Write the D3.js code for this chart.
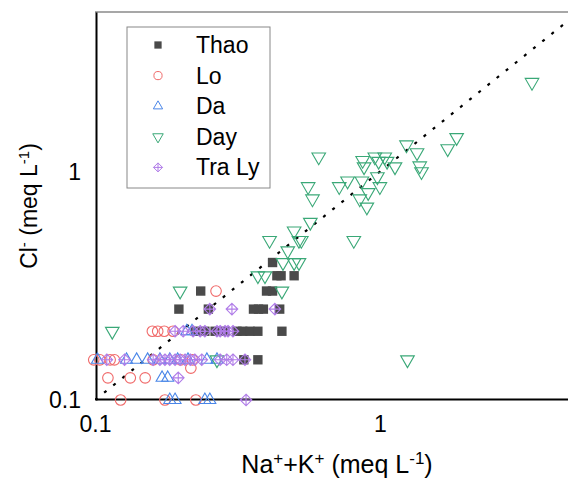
<!DOCTYPE html>
<html>
<head>
<meta charset="utf-8">
<script src="https://cdn.jsdelivr.net/npm/d3@7"></script>
<style>
  body { margin: 0; background: #fff; }
  svg { display: block; font-family: "Liberation Sans", Arial, sans-serif; }
</style>
</head>
<body>
<svg id="chart" width="568" height="484"></svg>
<script>
// series names in legend order
const seriesNames = ["Thao", "Lo", "Da", "Day", "Tra Ly"];
const seriesColors = ["#4a4a4a", "#f06a6a", "#4a86e8", "#3aa877", "#b07ce8"];

// [Na+ + K+, Cl-] in meq/L
const thao = [
    [0.42,0.4],[0.435,0.35],[0.45,0.35],[0.5,0.35],[0.235,0.3],[0.4,0.3],[0.42,0.3],
    [0.197,0.25],[0.25,0.25],[0.36,0.25],[0.375,0.25],[0.39,0.25],[0.445,0.25],
    [0.225,0.2],[0.243,0.2],[0.264,0.2],[0.286,0.2],[0.315,0.2],[0.33,0.2],[0.35,0.2],
    [0.373,0.2],[0.453,0.2],[0.333,0.15],[0.373,0.15]
];
const lo = [
    [0.099,0.15],[0.104,0.15],[0.113,0.15],[0.117,0.15],[0.16,0.15],[0.2,0.15],[0.22,0.15],
    [0.217,0.138],[0.111,0.125],[0.133,0.125],[0.15,0.125],[0.123,0.1],[0.176,0.1],[0.226,0.1],
    [0.159,0.2],[0.166,0.2],[0.175,0.2],[0.188,0.2],[0.266,0.3]
];
const da = [
    [0.183,0.1],[0.191,0.1],[0.243,0.1],[0.253,0.1],[0.172,0.125],[0.18,0.125],
    [0.102,0.15],[0.129,0.15],[0.14,0.15],[0.153,0.15],[0.169,0.15],[0.183,0.15],[0.195,0.15],
    [0.212,0.15],[0.247,0.15],[0.268,0.15],[0.21,0.2],[0.219,0.2]
];
const day = [
    [3.42,2.46],[1.86,1.41],[1.73,1.26],[1.24,1.31],[1.35,1.21],[1.38,1.06],[1.4,1.0],
    [0.61,1.16],[0.87,1.12],[0.88,1.05],[0.96,1.16],[0.99,1.11],[1.04,1.16],[1.06,1.11],
    [1.13,1.05],[0.98,0.95],[0.77,0.91],[0.865,0.91],[0.72,0.86],[0.56,0.86],[1.0,0.86],
    [0.91,0.81],[0.58,0.76],[0.85,0.76],[0.9,0.7],[0.57,0.6],[0.5,0.55],[0.41,0.5],
    [0.52,0.5],[0.53,0.5],[0.81,0.5],[0.475,0.45],[0.457,0.4],[0.5,0.4],[0.52,0.4],
    [0.373,0.35],[0.395,0.35],[0.453,0.3],[0.199,0.3],[0.115,0.2],[0.268,0.15],[1.25,0.15]
];
const traLy = [
    [0.253,0.25],[0.3025,0.25],[0.428,0.25],
    [0.191,0.2],[0.204,0.2],[0.221,0.2],[0.234,0.2],[0.243,0.2],[0.268,0.2],[0.275,0.2],
    [0.286,0.2],[0.293,0.2],[0.305,0.2],
    [0.11,0.15],[0.127,0.15],[0.16,0.15],[0.169,0.15],[0.176,0.15],[0.183,0.15],[0.191,0.15],
    [0.199,0.15],[0.207,0.15],[0.216,0.15],[0.224,0.15],[0.237,0.15],[0.275,0.15],[0.29,0.15],
    [0.305,0.15],[0.336,0.15],[0.196,0.125],[0.339,0.1]
];
const allSeries = [thao, lo, da, day, traLy];

const axisDomain = [0.1, 5];
const tickValues = [0.1, 1];
const tickLabels = ["0.1", "1"];

const svgTag = d3.select("#chart");
// plot box runs past the right edge of the picture, like the original crop
const plotLeft = 95, plotRight = 579, plotTop = 12, plotBottom = 400;
const fontSize = 23;

const x = d3.scaleLog().domain(axisDomain).range([plotLeft, plotRight]);
const y = d3.scaleLog().domain(axisDomain).range([plotBottom, plotTop]);

// marker shapes, one per series
const diamondCross = {
    draw(ctx, size) {
        const r = Math.sqrt(size) / 2;
        ctx.moveTo(0, -r); ctx.lineTo(r, 0); ctx.lineTo(0, r); ctx.lineTo(-r, 0); ctx.closePath();
        ctx.moveTo(0, -r); ctx.lineTo(0, r);
        ctx.moveTo(-r, 0); ctx.lineTo(r, 0);
    }
};
const markers = [
    { type: d3.symbolSquare, size: 88, fill: true, rotate: 0 },
    { type: d3.symbolCircle, size: 88, fill: false, rotate: 0 },
    { type: d3.symbolTriangle, size: 62, fill: false, rotate: 0 },
    { type: d3.symbolTriangle, size: 80, fill: false, rotate: 180 },
    { type: diamondCross, size: 135, fill: false, rotate: 0 }
];

svgTag.append("clipPath").attr("id", "plotClip")
    .append("rect").attr("x", plotLeft).attr("y", plotTop)
    .attr("width", plotRight - plotLeft).attr("height", plotBottom - plotTop);

// top frame line (grey)
svgTag.append("line")
    .attr("x1", plotLeft).attr("x2", plotRight)
    .attr("y1", plotTop).attr("y2", plotTop)
    .attr("stroke", "#8a8a8a").attr("stroke-width", 1.5);

// axes
const fmt = d => tickLabels[tickValues.indexOf(d)];
const xAxis = svgTag.append("g")
    .attr("transform", `translate(0,${plotBottom - 1})`)
    .call(d3.axisBottom(x).tickValues(tickValues).tickFormat(fmt)
        .tickSize(0).tickSizeOuter(0).tickPadding(17));
const yAxis = svgTag.append("g")
    .attr("transform", `translate(${plotLeft + 1},0)`)
    .call(d3.axisLeft(y).tickValues(tickValues).tickFormat(fmt)
        .tickSize(0).tickSizeOuter(0).tickPadding(15));
[xAxis, yAxis].forEach(g => {
    g.select(".domain").attr("stroke", "#000").attr("stroke-width", 2);
    g.selectAll("text").attr("font-size", fontSize)
        .attr("font-family", "Liberation Sans, Arial, sans-serif").attr("fill", "#000");
});

// 1:1 dotted line
svgTag.append("line")
    .attr("clip-path", "url(#plotClip)")
    .attr("x1", x(axisDomain[0])).attr("y1", y(axisDomain[0]))
    .attr("x2", x(axisDomain[1])).attr("y2", y(axisDomain[1]))
    .attr("stroke", "#000").attr("stroke-width", 2.2)
    .attr("stroke-dasharray", "3,8.7");

// points (not clipped: the ones on 0.1 sit over the axis line)
allSeries.forEach((pts, i) => {
    const m = markers[i];
    const sym = d3.symbol().type(m.type).size(m.size);
    svgTag.append("g")
        .selectAll("path")
        .data(pts)
        .join("path")
        .attr("d", sym)
        .attr("transform", d => `translate(${x(d[0])},${y(d[1])}) rotate(${m.rotate})`)
        .attr("fill", m.fill ? seriesColors[i] : "none")
        .attr("stroke", m.fill ? "none" : seriesColors[i])
        .attr("stroke-width", 1.1);
});

// axis titles with super-scripts
const xTitle = svgTag.append("text")
    .attr("x", (plotLeft + plotRight) / 2).attr("y", 473)
    .attr("text-anchor", "middle").attr("font-size", 25);
xTitle.append("tspan").text("Na");
xTitle.append("tspan").attr("baseline-shift", "super").attr("font-size", 17).text("+");
xTitle.append("tspan").text("+K");
xTitle.append("tspan").attr("baseline-shift", "super").attr("font-size", 17).text("+");
xTitle.append("tspan").text(" (meq L");
xTitle.append("tspan").attr("baseline-shift", "super").attr("font-size", 17).text("-1");
xTitle.append("tspan").text(")");

const yTitle = svgTag.append("text")
    .attr("transform", `translate(37,${(plotTop + plotBottom) / 2}) rotate(-90)`)
    .attr("text-anchor", "middle").attr("font-size", fontSize);
yTitle.append("tspan").text("Cl");
yTitle.append("tspan").attr("baseline-shift", "super").attr("font-size", 15).text("-");
yTitle.append("tspan").text(" (meq L");
yTitle.append("tspan").attr("baseline-shift", "super").attr("font-size", 15).text("-1");
yTitle.append("tspan").text(")");

// legend
const legendG = svgTag.append("g").attr("transform", "translate(127,27)");
legendG.append("rect")
    .attr("width", 143).attr("height", 161)
    .attr("fill", "#fff").attr("stroke", "#888").attr("stroke-width", 1);
seriesNames.forEach((name, i) => {
    const rowY = 18 + i * 30.6;
    const m = markers[i];
    const small = d3.symbol().type(m.type).size(m.size * 0.6);
    legendG.append("path")
        .attr("d", small)
        .attr("transform", `translate(31,${rowY}) rotate(${m.rotate})`)
        .attr("fill", m.fill ? seriesColors[i] : "none")
        .attr("stroke", m.fill ? "none" : seriesColors[i])
        .attr("stroke-width", 1);
    legendG.append("text")
        .attr("x", 69).attr("y", rowY + 8)
        .attr("font-size", 23)
        .text(name);
});
</script>
</body>
</html>
